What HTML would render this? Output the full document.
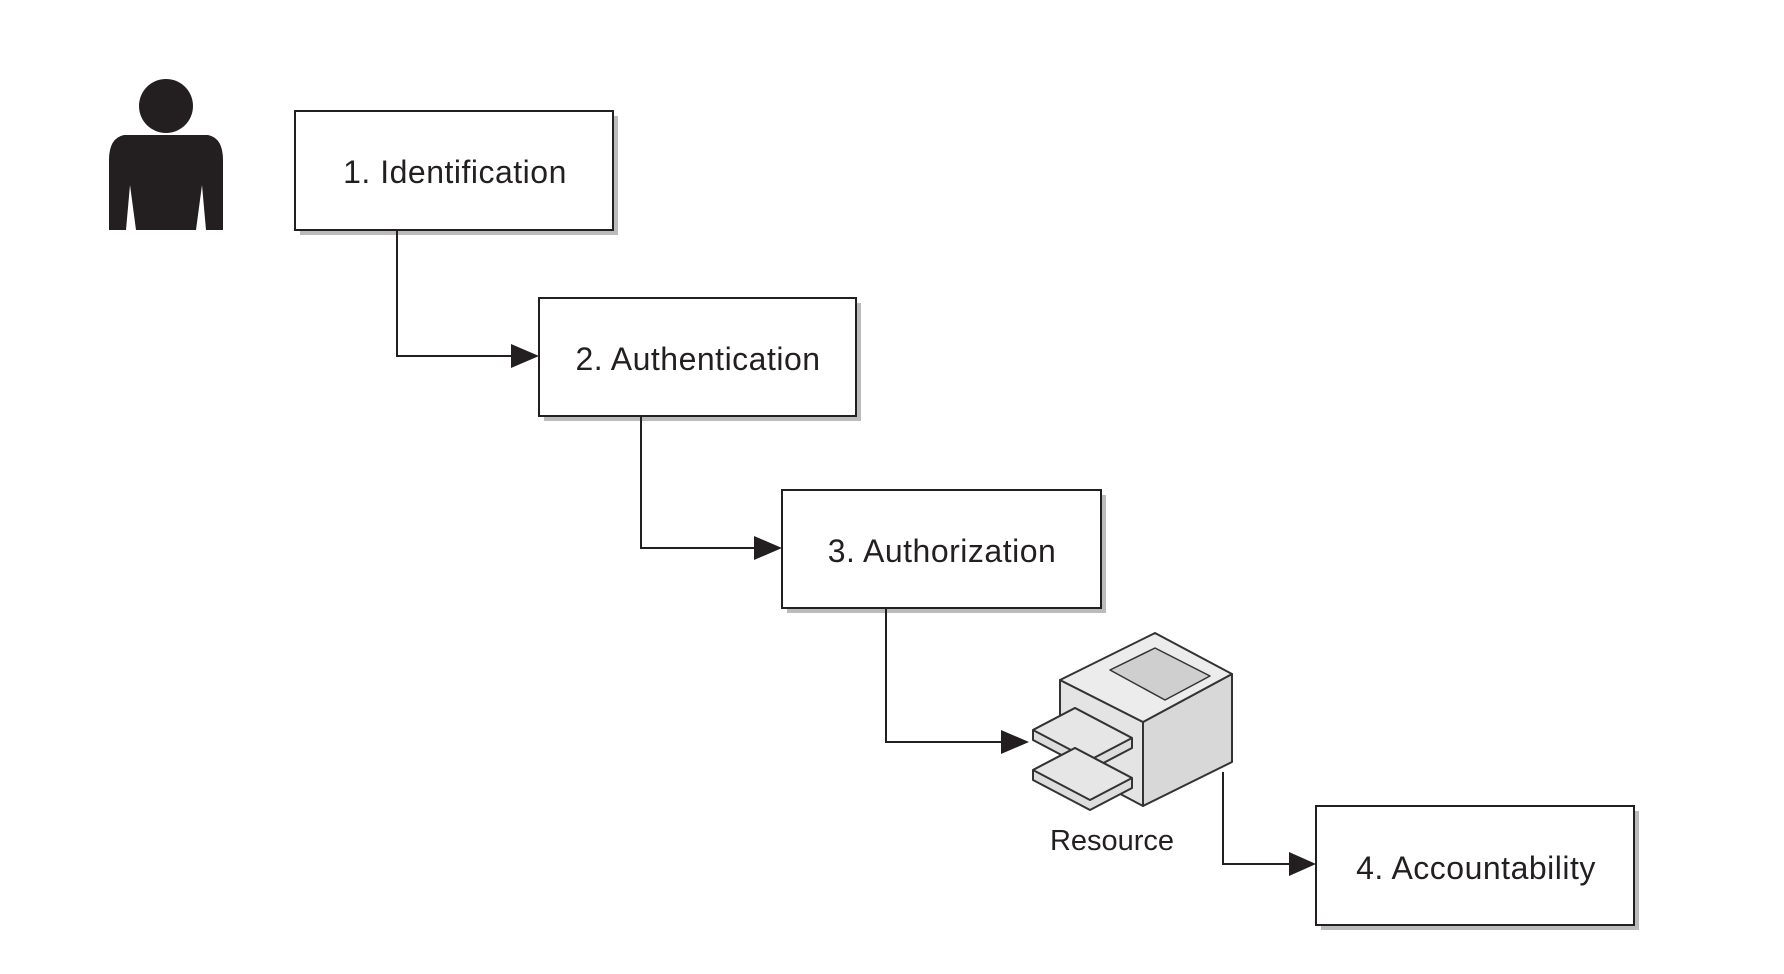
<!DOCTYPE html>
<html><head><meta charset="utf-8"><style>
html,body{margin:0;padding:0;background:#fff;}
body{width:1784px;height:974px;overflow:hidden;position:relative;font-family:"Liberation Sans",sans-serif;}
</style></head><body>
<svg width="1784" height="974" viewBox="0 0 1784 974" xmlns="http://www.w3.org/2000/svg" style="position:absolute;left:0;top:0">
<!-- person -->
<circle cx="166" cy="106" r="27" fill="#231f20"/>
<path d="M124 135 Q109 138 109 160 L109 230 L126 230 L130 185 L136 230 L196 230 L202 185 L206 230 L223 230 L223 160 Q223 138 208 135 Z" fill="#231f20"/>
<g fill="#bbb">
<rect x="300" y="116" width="318" height="119"/>
<rect x="544" y="303" width="317" height="118"/>
<rect x="787" y="495" width="319" height="118"/>
<rect x="1321" y="811" width="318" height="119"/>
</g>
<g fill="#fff" stroke="#231f20" stroke-width="2">
<rect x="295" y="111" width="318" height="119"/>
<rect x="539" y="298" width="317" height="118"/>
<rect x="782" y="490" width="319" height="118"/>
<rect x="1316" y="806" width="318" height="119"/>
</g>
<g font-size="32" fill="#231f20" text-anchor="middle" letter-spacing="0.5">
<text x="455" y="183">1.  Identification</text>
<text x="698" y="370">2.  Authentication</text>
<text x="942" y="562">3.  Authorization</text>
<text x="1476" y="879">4.  Accountability</text>
<text x="1112" y="850" font-size="29" letter-spacing="0">Resource</text>
</g>
<g fill="none" stroke="#231f20" stroke-width="2">
<path d="M397 230 V356 H515"/>
<path d="M641 416 V548 H758"/>
<path d="M886 608 V742 H1002"/>
<path d="M1223 772 V864 H1292"/>
</g>
<g fill="#231f20">
<path d="M511 344 L539 356 L511 368 Z"/>
<path d="M754 536 L782 548 L754 560 Z"/>
<path d="M1001 730 L1029 742 L1001 754 Z"/>
<path d="M1289 852 L1316 864 L1289 876 Z"/>
</g>
<g stroke="#333" stroke-width="2" stroke-linejoin="round">
<polygon points="1060,680 1143,722 1143,806 1060,762" fill="#e4e4e4"/>
<polygon points="1143,722 1232,674 1232,762 1143,806" fill="#d8d8d8"/>
<polygon points="1060,680 1155,633 1232,674 1143,722" fill="#ececec"/>
<polygon points="1110,670 1155,648 1210,676 1165,700" fill="#cfcfcf" stroke-width="1.5"/>
<polygon points="1033,730 1075,708 1132,738 1132,748 1090,770 1033,740" fill="#ddd"/>
<polygon points="1033,730 1075,708 1132,738 1090,760" fill="#e6e6e6"/>
<polygon points="1033,770 1075,748 1132,778 1132,788 1090,810 1033,780" fill="#ddd"/>
<polygon points="1033,770 1075,748 1132,778 1090,800" fill="#e6e6e6"/>
</g>
</svg>
</body></html>
